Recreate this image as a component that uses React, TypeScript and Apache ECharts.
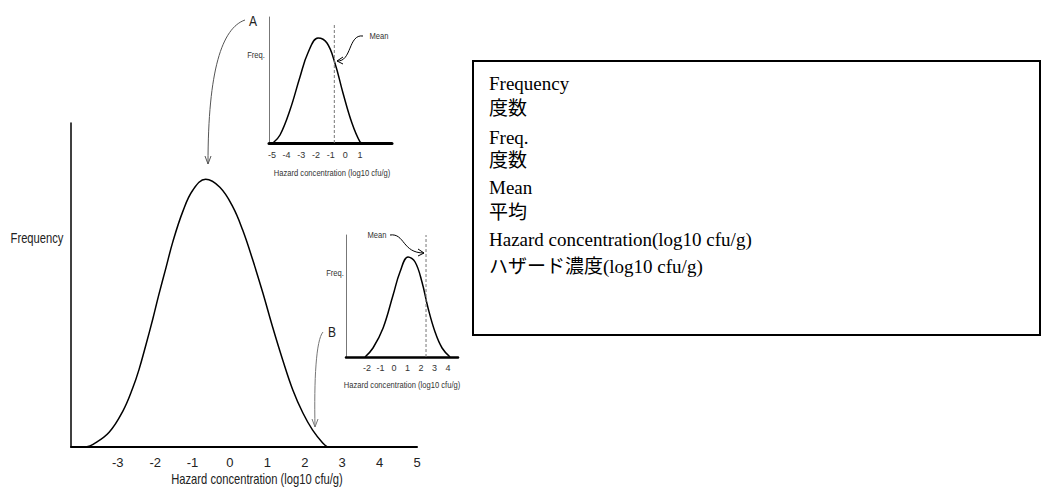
import React, { useEffect, useRef } from "react";
import * as echarts from "echarts";

// Main distribution (x in log10 cfu/g, y = relative frequency, peak = 100)
const mainCurveX = [-3.85, -3.66, -3.23, -2.86, -2.6, -2.43, -2.25, -2.06, -1.9, -1.71, -1.53, -1.26, -0.99, -0.65, -0.27, 0.08, 0.34, 0.61, 0.88, 1.14, 1.41, 1.68, 1.95, 2.21, 2.48, 2.61];
const mainCurveY = [0, 1, 5.5, 13.5, 22, 29, 38, 48, 57, 67, 76.5, 88, 96, 100, 97.0, 89.6, 81.0, 69.8, 57.5, 44.8, 32.5, 21.3, 12.7, 6.3, 1.5, 0];
const mainTicks = [-3, -2, -1, 0, 1, 2, 3, 4, 5];

// Inset A
const insetACurveX = [-4.93, -4.45, -3.77, -3.09, -2.55, -1.86, -1.25, -0.71, -0.16, 0.45, 1.0, 1.2];
const insetACurveY = [0, 7.6, 31.4, 62.9, 85.7, 100, 95.2, 76.2, 47.6, 19.0, 1.0, 0];
const insetATicks = [-5, -4, -3, -2, -1, 0, 1];
const insetAMean = -0.75;

// Inset B
const insetBCurveX = [-2.15, -1.56, -0.81, -0.07, 0.44, 1.04, 1.56, 2.07, 2.52, 3.04, 3.56, 4.15];
const insetBCurveY = [0, 9, 29, 62, 85, 100, 95, 75, 49, 25, 9, 0];
const insetBTicks = [-2, -1, 0, 1, 2, 3, 4];
const insetBMean = 2.37;

// Glossary box lines
const glossaryLines = [
  "Frequency",
  "度数",
  "Freq.",
  "度数",
  "Mean",
  "平均",
  "Hazard concentration(log10 cfu/g)",
  "ハザード濃度(log10 cfu/g)",
];
const glossaryY = [83, 108, 137, 160, 187, 212, 239, 266];

const axisTitle = "Hazard concentration (log10 cfu/g)";

const SANS = "'Liberation Sans', Arial, sans-serif";
const SERIF = "'Liberation Serif', 'Noto Sans CJK JP', serif";

function pairs(xs: number[], ys: number[]) {
  return xs.map((x, i) => [x, ys[i]]);
}

export default function App() {
  const ref = useRef<HTMLDivElement>(null);
  useEffect(() => {
    if (!ref.current) return;
    const chart = echarts.init(ref.current, undefined, { renderer: "svg" });

    const txt = (text: string, x: number, y: number, size: number, opts: any = {}) => ({
      type: "text",
      x,
      y,
      z: 10,
      scaleX: opts.scaleX ?? 0.8,
      style: {
        text,
        fill: opts.fill || "#222",
        font: `${size}px ${opts.family || SANS}`,
        textAlign: opts.align || "center",
        textVerticalAlign: "middle",
      },
    });

    const curve = (x1: number, y1: number, cpx1: number, cpy1: number, cpx2: number, cpy2: number, x2: number, y2: number, color: string) => ({
      type: "bezierCurve",
      z: 10,
      shape: { x1, y1, cpx1, cpy1, cpx2, cpy2, x2, y2 },
      style: { stroke: color, lineWidth: 1, fill: "none" },
    });
    const head = (pts: number[][], color: string) => ({
      type: "polyline",
      z: 10,
      shape: { points: pts },
      style: { stroke: color, lineWidth: 1, fill: "none" },
    });

    const option: any = {
      animation: false,
      backgroundColor: "#fff",
      grid: [
        { left: 71, top: 123, width: 346, height: 324 },
        { left: 269, top: 17, width: 123, height: 126 },
        { left: 346, top: 235, width: 112, height: 122 },
      ],
      xAxis: [
        {
          gridIndex: 0,
          type: "value",
          min: -4.25,
          max: 5,
          axisLine: { show: true, onZero: false, lineStyle: { color: "#000", width: 2 } },
          axisTick: { show: false },
          splitLine: { show: false },
          axisLabel: { customValues: mainTicks, color: "#222", fontSize: 13, fontFamily: SANS, margin: 9, showMinLabel: true, showMaxLabel: true },
        },
        {
          gridIndex: 1,
          type: "value",
          min: -5.2,
          max: 3.18,
          axisLine: { show: true, onZero: false, lineStyle: { color: "#000", width: 3 } },
          axisTick: { show: false },
          splitLine: { show: false },
          axisLabel: { customValues: insetATicks, color: "#333", fontSize: 9, fontFamily: SANS, margin: 7 },
        },
        {
          gridIndex: 2,
          type: "value",
          min: -3.56,
          max: 4.74,
          axisLine: { show: true, onZero: false, lineStyle: { color: "#000", width: 2.5 } },
          axisTick: { show: false },
          splitLine: { show: false },
          axisLabel: { customValues: insetBTicks, color: "#333", fontSize: 9, fontFamily: SANS, margin: 6 },
        },
      ],
      yAxis: [
        {
          gridIndex: 0,
          type: "value",
          min: 0,
          max: 121,
          axisLine: { show: true, onZero: false, lineStyle: { color: "#000", width: 1.5 } },
          axisTick: { show: false },
          axisLabel: { show: false },
          splitLine: { show: false },
        },
        {
          gridIndex: 1,
          type: "value",
          min: 0,
          max: 120,
          axisLine: { show: true, onZero: false, lineStyle: { color: "#777", width: 1 } },
          axisTick: { show: false },
          axisLabel: { show: false },
          splitLine: { show: false },
        },
        {
          gridIndex: 2,
          type: "value",
          min: 0,
          max: 122,
          axisLine: { show: true, onZero: false, lineStyle: { color: "#777", width: 1 } },
          axisTick: { show: false },
          axisLabel: { show: false },
          splitLine: { show: false },
        },
      ],
      series: [
        {
          type: "line",
          xAxisIndex: 0,
          yAxisIndex: 0,
          data: pairs(mainCurveX, mainCurveY),
          smooth: 0.4,
          showSymbol: false,
          lineStyle: { color: "#000", width: 1.5 },
        },
        {
          type: "line",
          xAxisIndex: 1,
          yAxisIndex: 1,
          data: pairs(insetACurveX, insetACurveY),
          smooth: 0.4,
          showSymbol: false,
          lineStyle: { color: "#000", width: 1.5 },
        },
        {
          type: "line",
          xAxisIndex: 1,
          yAxisIndex: 1,
          data: [[insetAMean, 0], [insetAMean, 114]],
          showSymbol: false,
          lineStyle: { color: "#777", width: 1, type: [3, 2] },
        },
        {
          type: "line",
          xAxisIndex: 2,
          yAxisIndex: 2,
          data: pairs(insetBCurveX, insetBCurveY),
          smooth: 0.4,
          showSymbol: false,
          lineStyle: { color: "#000", width: 1.5 },
        },
        {
          type: "line",
          xAxisIndex: 2,
          yAxisIndex: 2,
          data: [[insetBMean, 0], [insetBMean, 122]],
          showSymbol: false,
          lineStyle: { color: "#777", width: 1, type: [3, 2] },
        },
      ],
      graphic: [
        // main labels
        txt("Frequency", 37, 239, 14),
        txt(axisTitle, 257, 480, 14),
        // inset A labels
        txt("Freq.", 256, 55, 9.5, { fill: "#333" }),
        txt(axisTitle, 332, 173, 9.5, { fill: "#333" }),
        txt("Mean", 379, 36, 9.5, { fill: "#333" }),
        txt("A", 253, 21, 15),
        // inset B labels
        txt("Freq.", 335, 273, 9.5, { fill: "#333" }),
        txt(axisTitle, 402, 385, 9.5, { fill: "#333" }),
        txt("Mean", 377, 235, 9.5, { fill: "#333" }),
        txt("B", 332, 332, 15),
        // arrows
        curve(245, 20, 222, 28, 208, 70, 208, 164, "#555"),
        head([[205, 156], [208, 164], [211, 156]], "#555"),
        curve(323, 332, 316, 340, 314, 380, 315, 427, "#777"),
        head([[312, 419], [315, 427], [318, 419]], "#777"),
        curve(363, 36, 348, 34, 352, 62, 337, 61, "#000"),
        head([[343, 57], [337, 61], [343, 64]], "#000"),
        curve(390, 235, 405, 233, 402, 253, 424, 253, "#000"),
        head([[418, 249], [424, 253], [418, 256]], "#000"),
        // glossary box
        {
          type: "rect",
          z: 5,
          shape: { x: 473, y: 61, width: 567, height: 274 },
          style: { stroke: "#000", lineWidth: 2, fill: "#fff" },
        },
        ...glossaryLines.map((t, i) => txt(t, 489, glossaryY[i], 19, { family: SERIF, fill: "#000", align: "left", scaleX: 1 })),
      ],
    };
    chart.setOption(option);
    return () => chart.dispose();
  }, []);
  return (
    <div
      ref={ref}
      style={{ position: "absolute", left: 0, top: 0, width: 1042, height: 490 }}
    />
  );
}
